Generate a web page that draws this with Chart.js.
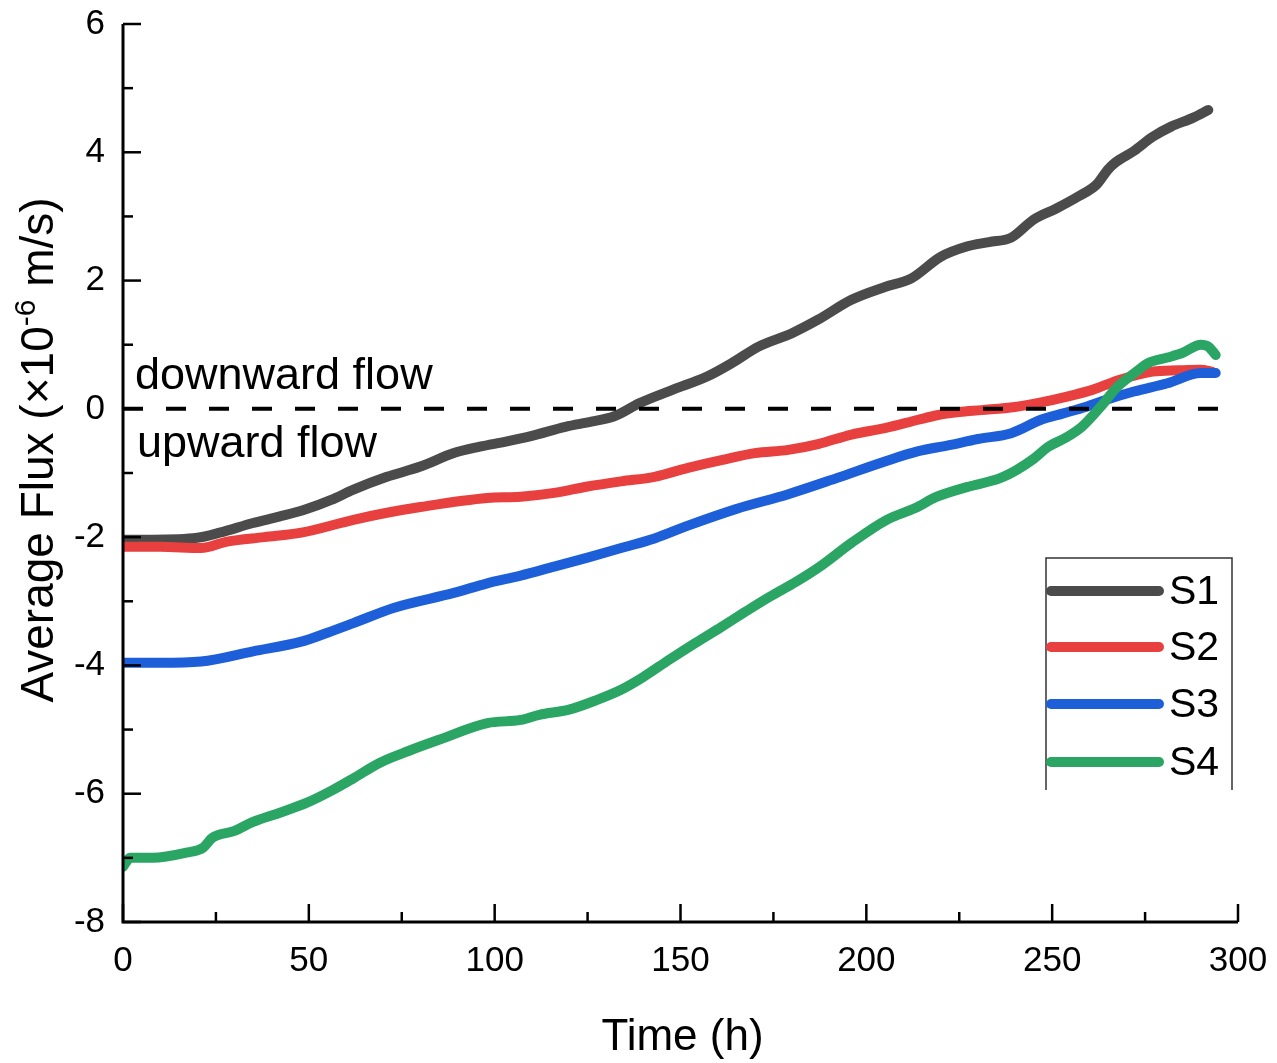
<!DOCTYPE html>
<html>
<head>
<meta charset="utf-8">
<script src="https://cdn.jsdelivr.net/npm/chart.js@4.4.1/dist/chart.umd.min.js"></script>
<style>
  html, body { margin: 0; padding: 0; background: #fff; }
  #wrap { width: 1277px; height: 1063px; }
</style>
</head>
<body>
<div id="wrap"><canvas id="c" width="1277" height="1063"></canvas></div>
<script>
// Average flux through four soil columns over the test period
const seriesNames = ['S1', 'S2', 'S3', 'S4'];
const seriesColors = ['#4b4b4b', '#e8403f', '#1d5fd8', '#2aa563'];

const s1Time = [0, 8, 20, 26, 35, 42, 49, 56, 62, 71, 80, 89, 96, 103, 110, 119, 126, 132, 139, 148, 157, 164, 171, 180, 187, 196, 205, 212, 220, 227, 233, 239, 245, 251, 257, 262, 265, 267, 272, 277, 282, 288, 292];
const s1Flux = [-2.04, -2.04, -2.01, -1.93, -1.78, -1.68, -1.57, -1.42, -1.26, -1.06, -0.90, -0.69, -0.59, -0.51, -0.42, -0.28, -0.20, -0.12, 0.09, 0.30, 0.50, 0.72, 0.97, 1.18, 1.39, 1.70, 1.90, 2.03, 2.37, 2.53, 2.60, 2.67, 2.95, 3.12, 3.31, 3.50, 3.73, 3.84, 4.02, 4.24, 4.40, 4.54, 4.66];

const s2Time = [0, 10, 21, 28, 38, 48, 62, 71, 80, 98, 107, 116, 125, 134, 143, 152, 161, 170, 179, 187, 196, 205, 214, 219, 225, 231, 240, 247, 254, 261, 268, 277, 284, 290, 293];
const s2Flux = [-2.15, -2.15, -2.17, -2.07, -2.00, -1.93, -1.73, -1.62, -1.53, -1.39, -1.37, -1.31, -1.21, -1.13, -1.06, -0.92, -0.80, -0.69, -0.64, -0.55, -0.40, -0.30, -0.17, -0.10, -0.05, -0.02, 0.03, 0.10, 0.19, 0.30, 0.45, 0.58, 0.60, 0.61, 0.58];

const s3Time = [0, 10, 21, 35, 48, 55, 62, 73, 89, 98, 107, 116, 125, 134, 143, 152, 165, 179, 192, 205, 214, 222, 230, 239, 247, 253, 259, 265, 272, 281, 290, 294];
const s3Flux = [-3.96, -3.96, -3.94, -3.78, -3.63, -3.49, -3.34, -3.10, -2.87, -2.72, -2.60, -2.46, -2.32, -2.17, -2.02, -1.82, -1.56, -1.33, -1.08, -0.82, -0.66, -0.57, -0.47, -0.38, -0.17, -0.07, 0.03, 0.15, 0.27, 0.40, 0.56, 0.56];

const s4Time = [0, 2, 8, 17, 21.6, 24, 30, 35, 42, 49.5, 56.5, 62, 69, 77, 85, 98, 107, 112, 120, 127, 134, 140, 147, 154, 161, 167, 174, 181, 187.5, 196, 205.5, 213, 219, 227, 236, 240.5, 245, 249, 254, 258, 263, 267.5, 272, 276, 281, 285, 290, 292, 294];
const s4Flux = [-7.14, -7.00, -7.00, -6.92, -6.84, -6.69, -6.58, -6.44, -6.30, -6.14, -5.94, -5.76, -5.52, -5.33, -5.16, -4.90, -4.85, -4.77, -4.69, -4.55, -4.38, -4.18, -3.91, -3.65, -3.40, -3.18, -2.93, -2.70, -2.46, -2.09, -1.73, -1.55, -1.37, -1.22, -1.08, -0.95, -0.78, -0.59, -0.44, -0.28, 0.03, 0.34, 0.55, 0.72, 0.80, 0.87, 1.00, 0.97, 0.84];

const zeroLineTime = [0, 300];
const zeroLineFlux = [0, 0];

const xTickValues = [0, 50, 100, 150, 200, 250, 300];
const yTickValues = [-8, -6, -4, -2, 0, 2, 4, 6];

const FONT = '"Liberation Sans", Arial, Helvetica, sans-serif';

function toPoints(xs, ys) { return xs.map((x, i) => ({ x: x, y: ys[i] })); }

const seriesTimes = [s1Time, s2Time, s3Time, s4Time];
const seriesFluxes = [s1Flux, s2Flux, s3Flux, s4Flux];

const datasets = seriesNames.map((name, i) => ({
  label: name,
  data: toPoints(seriesTimes[i], seriesFluxes[i]),
  borderColor: seriesColors[i],
  backgroundColor: seriesColors[i],
  borderWidth: 10,
  borderCapStyle: 'round',
  borderJoinStyle: 'round',
  pointRadius: 0,
  cubicInterpolationMode: 'monotone',
  order: 3 - i
}));
datasets.push({
  label: 'zero',
  data: toPoints(zeroLineTime, zeroLineFlux),
  borderColor: '#000',
  borderWidth: 4,
  borderDash: [20, 23],
  pointRadius: 0,
  order: -1
});

// Axes with inward ticks, rotated y title with superscript, flow labels and legend
const decorations = {
  id: 'decorations',
  afterDraw(chart) {
    const ctx = chart.ctx;
    const a = chart.chartArea;
    const xs = chart.scales.x, ys = chart.scales.y;
    ctx.save();

    // axis lines
    ctx.strokeStyle = '#000';
    ctx.lineWidth = 3;
    ctx.lineCap = 'butt';
    ctx.beginPath();
    ctx.moveTo(a.left, a.top);
    ctx.lineTo(a.left, a.bottom);
    ctx.lineTo(a.right, a.bottom);
    ctx.stroke();

    // ticks: major on labelled values, minor halfway between
    ctx.lineWidth = 2.5;
    for (let i = 0; i < xTickValues.length; i++) {
      const px = xs.getPixelForValue(xTickValues[i]);
      ctx.beginPath(); ctx.moveTo(px, a.bottom); ctx.lineTo(px, a.bottom - 18); ctx.stroke();
      if (i < xTickValues.length - 1) {
        const mx = xs.getPixelForValue((xTickValues[i] + xTickValues[i + 1]) / 2);
        ctx.beginPath(); ctx.moveTo(mx, a.bottom); ctx.lineTo(mx, a.bottom - 10); ctx.stroke();
      }
    }
    for (let i = 0; i < yTickValues.length; i++) {
      const py = ys.getPixelForValue(yTickValues[i]);
      ctx.beginPath(); ctx.moveTo(a.left, py); ctx.lineTo(a.left + 18, py); ctx.stroke();
      if (i < yTickValues.length - 1) {
        const my = ys.getPixelForValue((yTickValues[i] + yTickValues[i + 1]) / 2);
        ctx.beginPath(); ctx.moveTo(a.left, my); ctx.lineTo(a.left + 10, my); ctx.stroke();
      }
    }

    ctx.fillStyle = '#000';

    // x axis title
    ctx.font = '44px ' + FONT;
    ctx.textAlign = 'center';
    ctx.textBaseline = 'alphabetic';
    ctx.fillText('Time (h)', (a.left + a.right) / 2 + 2, a.bottom + 128);

    // y axis title with superscript exponent
    const mainFont = '46px ' + FONT;
    const supFont = '30px ' + FONT;
    const parts = [
      { t: 'Average Flux (×10', f: mainFont, dy: 0 },
      { t: '-6', f: supFont, dy: -18 },
      { t: ' m/s)', f: mainFont, dy: 0 }
    ];
    let total = 0;
    parts.forEach(p => { ctx.font = p.f; p.w = ctx.measureText(p.t).width; total += p.w; });
    ctx.translate(53, (a.top + a.bottom) / 2 - 23);
    ctx.rotate(-Math.PI / 2);
    ctx.textAlign = 'left';
    let cx = -total / 2;
    parts.forEach(p => { ctx.font = p.f; ctx.fillText(p.t, cx, p.dy); cx += p.w; });
    ctx.setTransform(1, 0, 0, 1, 0, 0);

    // flow direction labels around the zero line
    const zeroY = ys.getPixelForValue(0);
    ctx.font = '45px ' + FONT;
    ctx.textAlign = 'left';
    ctx.fillText('downward flow', a.left + 12, zeroY - 20);
    ctx.fillText('upward flow', a.left + 14, zeroY + 48);

    // legend
    const lgLeft = 1046, lgRight = 1232, lgTop = 558, lgBottom = 790;
    ctx.strokeStyle = '#333';
    ctx.lineWidth = 1.5;
    ctx.beginPath();
    ctx.moveTo(lgLeft, lgBottom); ctx.lineTo(lgLeft, lgTop);
    ctx.lineTo(lgRight, lgTop); ctx.lineTo(lgRight, lgBottom);
    ctx.stroke();
    const rowY = [591, 647, 704, 762];
    ctx.lineCap = 'round';
    ctx.lineWidth = 10;
    ctx.font = '41px ' + FONT;
    ctx.textBaseline = 'middle';
    seriesNames.forEach((name, i) => {
      ctx.strokeStyle = seriesColors[i];
      ctx.beginPath(); ctx.moveTo(lgLeft + 5, rowY[i]); ctx.lineTo(lgLeft + 113, rowY[i]); ctx.stroke();
      ctx.fillStyle = '#000';
      ctx.fillText(name, lgLeft + 123, rowY[i] + 2);
    });
    ctx.restore();
  }
};

new Chart(document.getElementById('c'), {
  type: 'line',
  data: { datasets: datasets },
  options: {
    responsive: false,
    animation: false,
    events: [],
    layout: { padding: { left: 0, top: 24, right: 39, bottom: 0 } },
    plugins: { legend: { display: false }, tooltip: { enabled: false } },
    scales: {
      x: {
        type: 'linear',
        min: 0, max: 300,
        afterFit: s => { s.height = 141; s.paddingLeft = 0; s.paddingRight = 0; },
        afterBuildTicks: s => { s.ticks = xTickValues.map(v => ({ value: v })); },
        grid: { display: false, drawTicks: false },
        border: { display: false },
        ticks: { color: '#000', font: { family: FONT, size: 35 }, padding: 18, maxRotation: 0 }
      },
      y: {
        type: 'linear',
        min: -8, max: 6,
        afterFit: s => { s.width = 123; s.paddingTop = 0; s.paddingBottom = 0; },
        afterBuildTicks: s => { s.ticks = yTickValues.map(v => ({ value: v })); },
        grid: { display: false, drawTicks: false },
        border: { display: false },
        ticks: { color: '#000', font: { family: FONT, size: 35 }, padding: 18 }
      }
    }
  },
  plugins: [decorations]
});
</script>
</body>
</html>
